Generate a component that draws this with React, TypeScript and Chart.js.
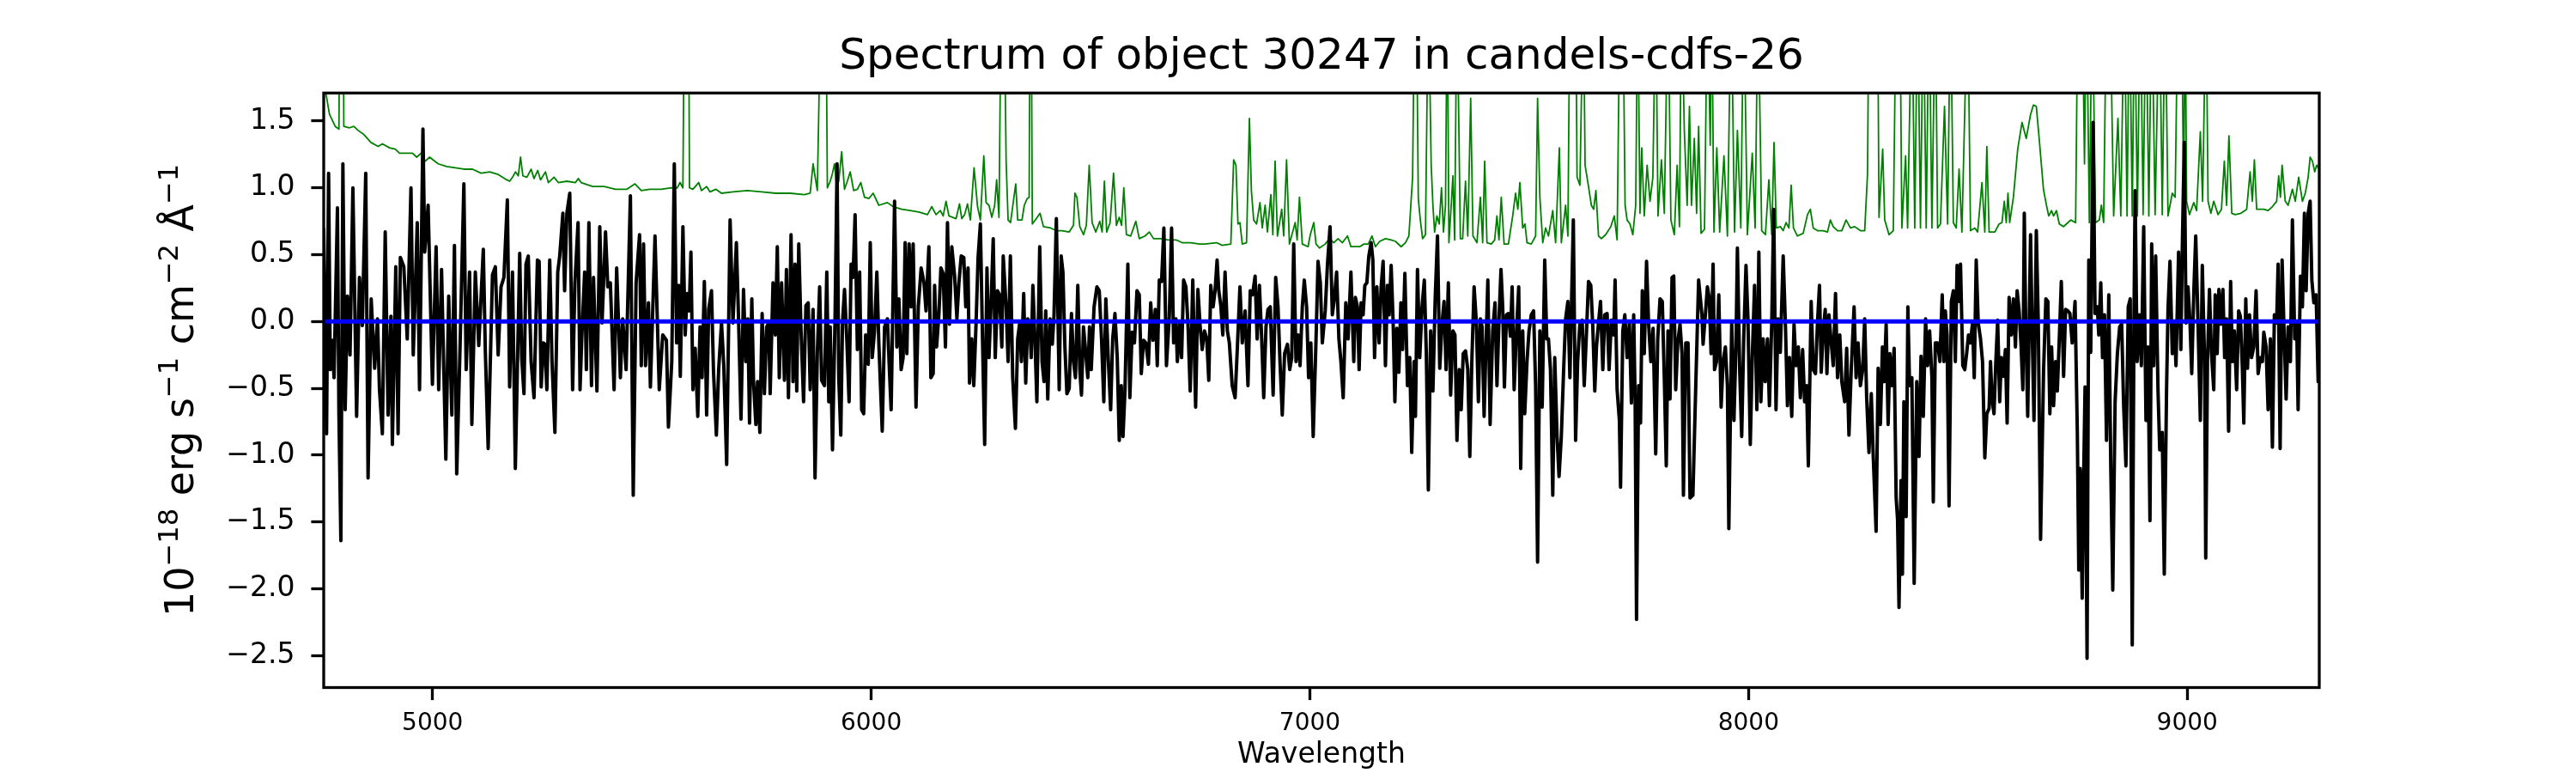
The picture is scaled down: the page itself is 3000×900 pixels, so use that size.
import React, { useEffect, useRef } from 'react';
import { Chart, registerables } from 'chart.js';

Chart.register(...registerables);

// ---------- texts ----------
const TITLE = 'Spectrum of object 30247 in candels-cdfs-26';
const X_LABEL = 'Wavelength';
const Y_LABEL_PARTS: [string, boolean][] = [
  ['10', false], ['\u221218', true], [' erg s', false], ['\u22121', true],
  [' cm', false], ['\u22122', true], [' \u00C5', false], ['\u22121', true],
];

// ---------- axes ----------
const X_MIN = 4752;
const X_MAX = 9301;
const Y_MIN = -2.739;
const Y_MAX = 1.71;
const X_TICKS = [5000, 6000, 7000, 8000, 9000];
const Y_TICKS = [-2.5, -2.0, -1.5, -1.0, -0.5, 0.0, 0.5, 1.0, 1.5];

// ---------- model (blue) ----------
const modelWave = [4752, 9301];
const modelFlux = [0, 0];

// ---------- observed flux (black) ----------
const fluxWave = [
  4752.0,4758.5,4763.1,4767.0,4771.6,4775.5,4783.3,4786.6,4791.1,4795.7,
  4800.9,4806.1,4812.0,4818.5,4827.0,4833.5,4840.0,4847.8,4853.1,4860.2,
  4868.1,4874.6,4879.1,4885.7,4892.2,4898.7,4905.2,4908.5,4916.3,4921.5,
  4926.7,4934.6,4942.4,4950.9,4956.1,4960.6,4965.2,4970.4,4978.2,4982.2,
  4990.0,4999.8,5008.2,5014.1,5020.6,5030.4,5036.9,5044.1,5050.0,5055.2,
  5063.0,5071.5,5076.7,5084.5,5089.7,5097.6,5105.4,5115.8,5120.4,5126.9,
  5136.7,5143.2,5149.7,5156.2,5162.8,5170.6,5175.8,5182.3,5188.8,
  5198.8,5203.3,5208.5,5213.1,5218.3,5224.8,5231.4,5239.2,5243.1,5247.7,
  5252.9,5256.1,5260.7,5267.2,5272.4,5279.0,5285.5,5290.0,5297.2,5301.1,
  5306.3,5312.9,5319.4,5324.6,5331.8,5336.3,5340.2,5346.8,5350.7,5356.5,
  5362.4,5367.0,5374.8,5381.3,5386.5,5394.4,5399.6,5405.4,5413.9,5419.8,
  5428.3,5433.5,5441.3,5451.1,5457.6,5464.1,5472.0,5475.9,5481.1,5485.6,
  5492.2,5496.7,5507.2,5516.9,5524.8,5533.2,5537.8,
  5545.4,5551.2,5556.5,5561.0,5564.9,5570.8,5576.0,5580.6,5585.1,5589.1,
  5593.6,5598.8,5604.7,5609.9,5614.5,5619.7,5624.9,5629.5,5636.0,5640.6,
  5647.1,5652.3,5658.8,5664.0,5670.6,5678.4,5684.9,5692.7,5697.9,5703.2,
  5709.0,5714.2,5718.8,5722.7,5727.9,5731.8,5737.1,5741.0,5746.2,5751.4,
  5756.6,5761.8,5766.4,5769.7,5776.2,5781.4,5786.0,5790.5,5795.7,5802.3,
  5806.8,5811.4,5817.3,5821.8,5826.4,5830.3,5834.9,5840.1,5845.9,5851.2,
  5856.4,5861.0,5867.5,5872.0,5877.2,5882.5,5887.0,5893.5,5898.8,5903.3,
  5906.6,5911.8,5917.7,5922.2,5926.1,5930.7,5934.6,5939.2,5944.4,5949.6,
  5954.2,5958.7,5963.3,5968.5,5973.7,5978.3,5982.9,5987.4,5993.3,5997.9,
  6002.4,6007.6,6012.9,6017.4,6025.2,6030.5,6037.0,6041.5,6045.5,6053.3,
  6058.5,6063.1,6068.3,6072.8,6077.4,6081.3,6086.5,6091.1,6095.7,6102.2,
  6107.4,6113.9,6120.4,6125.0,6131.5,6136.1,6141.3,6144.6,6149.1,6154.3,
  6158.9,6164.1,6169.3,6173.9,6178.5,6183.7,6190.2,6195.4,6200.0,6205.2,
  6211.1,6215.6,6220.8,6224.1,6229.3,6233.9,6239.1,6243.7,6248.9,6253.4,
  6258.7,6263.9,6268.5,6273.0,6278.2,6282.8,6288.0,6292.6,6297.8,6301.0,
  6307.6,6312.1,6317.3,6322.6,
  6328.8,6334.0,6338.6,6342.5,6347.7,6352.3,6356.9,6361.4,6364.7,6368.6,
  6373.2,6377.7,6384.2,6389.5,6394.0,6397.9,6402.5,6407.7,6412.9,6416.8,
  6422.1,6428.6,6433.1,6437.1,6441.6,6446.2,6451.4,6456.6,6461.2,6465.7,
  6471.0,6475.5,6479.4,6484.0,6489.2,6493.8,6497.7,6501.6,6508.1,6514.6,
  6519.9,6525.1,6530.3,6534.9,6540.7,6545.9,6550.5,6555.7,6560.9,6565.5,
  6570.1,6574.0,6578.5,6585.1,6589.6,6594.8,6600.1,6605.9,6611.1,6615.7,
  6620.9,6626.1,6632.0,6637.2,6642.4,6647.7,6652.2,6656.8,6662.0,6667.2,
  6673.1,6679.6,6684.8,6689.4,6694.7,6697.9,6703.7,6707.6,6712.2,6717.4,
  6722.0,6727.2,6733.1,6739.6,6744.8,6750.0,6754.6,6759.8,6765.0,6769.6,
  6774.1,6779.4,6783.9,6788.5,6792.4,6797.0,6801.5,6806.7,6812.0,6816.5,
  6823.0,6829.6,6834.8,6840.6,6845.9,6852.4,6858.9,6864.1,6869.3,6875.2,
  6879.8,6885.0,6890.2,6894.8,6900.0,6904.5,6909.8,6916.3,6922.1,6927.4,
  6931.9,6937.1,6942.4,6948.9,6954.1,6958.7,6963.2,6968.4,6973.0,6977.6,
  6982.8,6987.3,6992.6,6997.1,7002.3,7007.6,7014.1,7018.6,7023.9,7028.4,
  7035.0,7040.2,7046.0,7051.2,7055.8,7061.0,7066.2,7070.8,7076.0,7081.9,
  7087.1,7093.6,7100.1,
  7103.8,7108.4,7112.3,7116.8,7121.4,7125.3,7129.9,7134.4,7139.7,7143.6,
  7147.5,7152.7,7157.9,7162.5,7167.0,7172.3,7176.8,7180.7,7185.3,7189.9,
  7193.8,7198.3,7202.9,7207.5,7211.4,7216.6,7222.5,7227.7,7232.2,7237.5,
  7240.7,7245.3,7250.5,7255.7,7260.9,7265.5,7270.1,7275.3,7280.5,7285.7,
  7290.9,7296.1,7301.4,7305.9,7310.5,7315.7,7320.9,7326.1,7330.7,7335.3,
  7340.5,7345.0,7349.6,7354.8,7360.0,7364.6,7369.2,7374.4,7379.6,7384.2,
  7388.7,7392.6,7397.2,7400.5,7405.7,7410.9,7416.8,7422.0,7426.5,7431.1,
  7435.7,7439.6,7443.5,7448.1,7452.6,7457.2,7461.1,7465.7,7470.2,7476.1,
  7480.7,7485.2,7489.8,7495.0,7499.6,7504.8,7510.0,7514.6,7519.1,7524.3,
  7529.6,7535.4,7540.0,7543.9,7548.5,7553.7,7558.2,7563.5,7568.0,7573.2,
  7578.5,7583.0,7588.2,7592.8,7600.6,7605.8,7610.4,7615.6,7620.8,7625.4,
  7630.6,7635.2,7640.4,7645.0,7649.5,7653.4,7658.0,7662.6,7667.8,7672.3,
  7677.6,7682.1,7687.3,7692.6,7695.8,7700.4,7705.6,7708.2,7713.4,7718.0,
  7723.2,7728.4,7733.0,7738.2,7741.5,7744.7,7749.3,7753.8,7757.8,7762.3,
  7767.5,7772.1,7777.3,7782.5,7788.4,7793.0,7798.2,7803.4,7808.0,7812.5,
  7816.4,7821.0,7825.6,7829.5,7834.0,7838.6,7843.8,7848.4,7851.6,7856.9,
  7862.1,7866.6,7873.2,7879.7,7886.2,
  7893.8,7896.4,7901.6,7906.2,7910.7,7914.6,7919.2,7922.5,7927.0,7932.2,
  7937.5,7942.0,7947.2,7951.8,7955.1,7961.6,7966.8,7971.4,7974.6,7979.8,
  7984.4,7989.0,7994.2,7998.7,8004.0,8008.5,8013.7,8019.0,8023.5,8028.1,
  8033.3,8037.9,8043.1,8047.6,8052.9,8057.4,8062.6,8067.2,8072.4,8079.0,
  8084.2,8088.7,8093.3,8098.5,8103.7,8108.3,8113.5,8118.1,8123.3,8127.8,
  8132.4,8136.3,8142.8,8147.4,8152.6,8157.2,8161.7,8165.7,8170.2,8174.8,
  8178.7,8183.3,8187.8,8193.0,8198.3,8202.8,8208.0,8212.6,8219.1,8223.7,
  8228.9,8234.1,8240.6,8245.2,8249.8,8255.0,8260.2,8264.8,8269.3,8274.5,
  8279.8,8284.3,8290.8,8295.4,8300.6,8305.2,8309.1,8313.7,8318.2,8322.1,
  8326.7,8331.9,8336.5,8339.7,8343.0,8347.6,8350.8,8354.1,8359.3,8363.2,
  8367.1,8372.3,8377.6,8383.4,8388.6,8393.2,8398.4,8403.6,8408.2,8412.8,
  8418.0,8421.2,8425.8,8431.0,8436.2,8441.5,8445.4,8448.6,8452.5,8457.1,
  8462.3,8466.9,8471.4,8475.4,8479.9,8483.2,8488.4,8493.0,8497.5,8501.4,
  8506.0,8510.6,8514.5,8519.0,8523.6,8528.8,8533.4,8538.6,8543.2,8548.4,
  8551.6,8554.9,8559.5,8563.4,8567.9,8572.5,8576.4,8581.0,8585.5,8589.5,
  8594.0,8599.2,8603.8,8608.4,8612.3,8616.8,8621.4,8625.3,8628.6,8631.8,
  8636.4,8642.9,8646.2,8650.7,8656.0,8660.5,8665.7,
  8672.6,8677.8,8682.3,8686.9,8690.8,8695.4,8699.9,8703.9,8708.4,8713.0,
  8718.2,8722.8,8728.0,8732.5,8737.8,8744.3,8749.5,8752.8,8756.0,8760.6,
  8763.8,8767.1,8771.7,8775.6,8780.1,8785.4,8789.9,8795.1,8798.4,8803.0,
  8806.9,8811.4,8816.0,8821.2,8825.8,8830.3,8835.6,8840.8,8846.0,8850.6,
  8855.1,8860.3,8865.6,8870.1,8874.7,8878.6,8881.2,8885.8,8891.0,8895.5,
  8900.8,8906.0,8910.5,8915.1,8919.0,8923.6,8928.1,8933.4,8937.3,8943.1,
  8947.7,8952.9,8956.2,8960.7,8966.0,8970.5,8974.4,8980.3,8985.5,8988.8,
  8993.3,8997.3,9001.8,9006.4,9010.3,9014.9,9019.4,9024.6,9029.9,9034.4,
  9039.6,9042.2,9046.2,9050.7,9055.3,9060.5,9063.8,9068.3,9072.2,9076.8,
  9081.4,9085.3,9089.8,9094.4,9099.0,9102.9,9107.4,9112.7,9117.2,9121.1,
  9125.7,9129.0,9133.5,9137.4,9142.0,9146.6,9151.8,9157.0,9161.6,9166.8,
  9171.3,9174.6,9179.8,9184.4,9189.6,9194.2,9198.7,9203.9,9207.2,9211.8,
  9216.3,9220.2,9225.5,9230.0,9235.2,9239.8,9245.0,9249.6,9252.8,9258.1,
  9262.6,9267.2,9271.1,9275.7,9280.2,9284.1,9288.7,9293.9,9298.5,9302.0,
];
const fluxValue = [
  0.70,-0.84,1.11,-0.36,-0.14,-0.42,0.85,-0.68,-1.64,1.18,
  -0.66,0.19,-0.25,1.00,-0.71,0.33,-0.03,1.11,-1.17,0.17,
  -0.35,0.02,-0.51,-0.84,0.67,-0.70,0.04,-0.92,0.41,-0.84,
  0.48,0.41,-0.13,1.00,-0.25,0.22,0.74,-0.51,1.44,0.52,
  0.87,-0.47,0.56,-0.51,0.39,-1.03,0.19,-0.70,0.57,-1.14,
  -0.16,1.03,-0.36,0.37,-0.77,0.37,-0.18,0.54,-0.22,-0.95,
  0.35,0.41,-0.25,0.26,0.33,0.91,-0.49,0.37,-1.10,
  0.51,-0.27,-0.54,0.43,0.49,-0.30,-0.57,0.46,0.45,-0.49,
  -0.16,-0.17,-0.51,0.46,-0.30,-0.83,0.37,0.49,0.81,0.23,
  0.81,0.96,-0.51,0.29,0.74,-0.51,-0.13,0.37,-0.36,0.74,
  -0.48,0.33,-0.52,0.71,-0.01,0.67,0.26,0.29,-0.51,0.40,
  -0.42,0.02,-0.36,0.94,-1.30,0.29,0.65,-0.33,0.58,-0.33,
  0.14,-0.49,0.64,-0.51,-0.10,-0.14,-0.79,
  -0.30,1.18,-0.16,0.27,-0.41,0.71,-0.10,0.21,0.08,0.52,
  -0.51,-0.20,-0.71,-0.04,-0.42,0.30,-0.70,0.09,0.23,-0.38,
  -0.85,-0.36,-0.01,-0.33,-1.07,0.76,-0.01,0.59,-0.01,-0.73,
  0.24,-0.30,0.02,-0.76,0.17,-0.45,-0.77,-0.45,-0.83,0.06,
  -0.54,-0.04,-0.01,-0.54,0.29,-0.10,0.56,-0.42,0.29,-0.44,
  0.39,-0.57,0.65,-0.45,0.43,-0.52,0.58,-0.07,-0.60,0.12,
  0.14,-0.51,0.09,-1.17,-0.24,0.26,-0.44,-0.48,0.37,-0.60,
  -0.04,-0.96,0.04,1.18,-0.42,-0.85,-0.01,0.24,-0.13,-0.60,
  0.43,0.33,0.80,-0.21,0.37,-0.66,-0.69,-0.10,-0.32,0.59,
  -0.27,-0.07,0.37,-0.16,-0.82,-0.04,0.02,-0.36,-0.66,0.90,
  -0.19,0.17,-0.36,-0.27,0.59,-0.24,0.58,0.11,0.58,-0.64,
  0.11,0.40,0.29,0.08,0.56,-0.42,-0.39,0.27,-0.19,0.05,
  0.40,0.36,-0.19,0.74,-0.02,0.56,0.34,0.02,0.29,0.49,
  0.48,0.11,0.40,-0.46,-0.13,-0.48,-0.01,0.48,0.73,-0.07,
  -0.92,0.40,-0.27,0.11,0.62,-0.27,0.23,0.20,-0.19,0.49,
  0.11,-0.30,0.49,-0.42,
  -0.80,-0.13,-0.01,-0.30,0.21,-0.46,0.02,-0.01,-0.27,0.27,
  -0.13,-0.60,0.56,-0.30,-0.45,0.08,-0.58,0.02,-0.17,0.05,
  0.77,-0.51,0.49,0.37,-0.19,-0.54,-0.50,0.06,-0.30,-0.42,
  0.27,-0.36,-0.55,-0.04,-0.24,-0.42,-0.04,-0.36,0.11,0.26,
  0.23,-0.13,-0.60,0.17,-0.30,-0.66,-0.13,0.06,-0.27,-0.89,
  -0.48,-0.86,-0.52,0.43,-0.57,-0.08,-0.16,0.23,0.20,-0.39,
  -0.14,-0.16,-0.32,0.14,-0.14,0.09,-0.33,0.31,0.30,0.70,
  -0.33,0.04,0.70,-0.16,0.02,-0.30,-0.01,-0.27,0.31,0.26,
  -0.01,-0.52,0.31,-0.64,0.24,-0.04,-0.21,-0.07,-0.13,-0.44,
  0.27,0.11,0.23,0.46,0.23,0.12,-0.10,0.37,-0.07,-0.16,
  -0.48,-0.57,-0.19,0.26,-0.16,0.08,-0.48,0.23,0.20,0.34,
  -0.13,0.27,-0.13,-0.57,-0.04,0.09,0.11,-0.55,0.33,0.11,
  -0.30,-0.70,-0.24,-0.17,-0.36,-0.27,0.58,-0.30,-0.10,-0.33,
  0.11,0.31,0.11,-0.42,-0.16,-0.86,-0.13,0.45,0.29,-0.16,
  0.08,0.43,0.71,0.05,0.17,0.37,-0.13,-0.30,-0.57,0.14,
  -0.13,0.37,-0.30,
  0.18,0.11,-0.36,0.14,0.05,0.27,0.29,0.49,0.59,0.46,
  -0.27,0.26,-0.16,0.26,0.45,-0.33,0.27,0.05,0.42,-0.01,
  -0.60,-0.05,-0.38,0.14,-0.21,0.36,-0.48,-0.27,-0.98,-0.30,
  -0.71,0.39,-0.27,0.11,0.31,-0.24,-1.26,-0.07,-0.52,0.17,
  0.64,-0.35,-0.01,0.15,-0.36,0.29,-0.55,-0.07,-0.10,-0.89,
  -0.36,-0.66,-0.24,-0.22,-0.36,-1.01,-0.30,0.26,-0.01,-0.60,
  0.02,-0.04,-0.71,-0.30,0.31,-0.77,-0.07,0.14,-0.48,0.01,
  0.39,0.11,-0.49,0.05,0.06,-0.11,0.26,-0.51,-0.13,0.26,
  -1.10,-0.07,-0.69,-0.30,-0.07,0.05,0.08,-0.48,-1.80,-0.07,
  -0.64,0.46,-0.13,-0.13,-0.36,-1.30,-0.27,-0.86,-1.16,-0.86,
  -0.36,0.02,0.15,-0.42,0.76,-0.89,-0.30,-0.01,0.01,-0.48,
  -0.08,0.30,0.27,-0.04,-0.52,-0.19,-0.01,0.15,-0.36,0.05,
  0.06,-0.36,0.01,-0.10,0.31,-0.51,-0.74,-1.24,-0.07,0.05,
  -0.27,-0.01,-0.61,0.05,-0.60,-2.23,-0.48,-0.76,0.23,-0.24,
  0.45,-0.01,-0.30,-0.05,-0.99,-0.13,0.17,0.15,-0.42,-1.08,
  -0.07,-0.58,0.33,0.34,-0.51,-0.16,-0.02,-0.24,-1.30,-0.16,
  -0.16,-1.32,-1.30,-0.48,0.31,
  0.05,-0.17,0.05,0.26,0.17,-0.24,0.43,-0.36,-0.30,0.20,
  -0.64,-0.30,-0.19,-0.48,-1.55,-0.01,-0.74,-0.17,0.55,-0.36,
  -0.86,-0.13,0.42,0.02,-0.92,-0.27,0.27,-0.66,0.52,-0.60,
  -0.13,-0.45,-0.13,-0.63,-0.01,0.84,-0.66,0.02,-0.23,0.49,
  -0.04,-0.63,-0.27,-0.71,-0.02,-0.33,-0.19,-0.57,-0.21,-0.60,
  -0.48,-1.08,0.15,-0.36,-0.39,-0.01,0.27,-0.38,-0.07,0.09,
  -0.39,0.05,-0.13,-0.33,0.21,-0.42,-0.10,-0.45,-0.60,-0.20,
  -0.85,-0.36,0.11,-0.42,-0.16,-0.48,-0.36,0.02,-0.57,-0.98,
  -0.54,-1.01,-1.57,-0.35,-0.77,-0.19,-0.45,-0.02,-0.77,-0.24,
  -0.48,-0.20,-1.32,-1.48,-2.14,-1.19,-1.89,-0.60,-1.46,0.11,
  -0.48,-0.42,-1.96,-0.45,-1.01,-0.26,-0.71,0.02,-0.33,-0.07,
  -0.42,-1.35,-0.16,-0.16,-0.30,0.20,-0.30,0.08,-0.10,-1.38,
  0.15,0.23,-0.30,0.42,0.15,0.43,-0.33,-0.36,-0.23,-0.10,
  -0.16,-0.01,-0.42,0.46,-0.01,-0.13,-0.30,-1.02,-0.69,-0.65,
  -0.30,-0.57,-0.69,-0.33,0.01,-0.60,-0.27,-0.41,-0.21,-0.76,
  0.18,-0.10,0.17,-0.19,0.23,0.08,-0.19,-0.51,0.81,-0.01,
  -0.71,0.65,-0.01,-0.74,0.68,-0.01,-1.63,
  -0.36,0.17,0.15,-0.69,-0.19,-0.63,-0.30,-0.52,-0.13,0.30,
  -0.41,0.09,0.08,0.06,-0.16,0.15,-0.83,-1.86,-1.10,-2.07,
  -1.19,-0.49,-2.52,0.46,-0.23,1.49,0.06,0.11,-0.10,0.29,
  -0.27,0.05,-0.89,0.20,-1.10,-2.01,-0.60,-0.24,-0.04,-0.02,
  -0.63,-1.08,0.11,0.17,-2.42,-0.01,0.98,-0.30,0.05,-0.33,
  0.71,-0.74,-0.19,-1.49,0.58,-0.33,0.49,-0.51,-0.96,-0.83,
  -1.89,-0.51,0.09,0.45,-0.24,-0.01,-0.33,0.52,-0.21,0.55,
  1.34,-0.01,0.26,-0.01,-0.39,0.21,0.64,-0.01,-0.74,0.42,
  -0.30,-1.77,-0.30,0.24,-0.24,-0.51,0.20,-0.24,0.24,-0.02,
  0.24,-0.27,0.02,-0.82,0.30,-0.30,-0.07,-0.51,0.08,0.04,
  -0.35,-0.76,0.17,-0.35,0.05,-0.27,-0.19,0.23,-0.39,-0.27,
  -0.30,-0.08,-0.19,-0.66,-0.13,-0.94,0.05,-0.01,0.43,-0.95,
  0.46,-0.01,-0.58,-0.04,-0.30,0.76,-0.13,-0.01,-0.66,0.34,
  0.11,0.81,0.23,0.81,0.90,0.31,0.14,0.20,-0.45,-0.45,
];

// ---------- noise / sky (green) ----------
const noiseWave = [
  4752.1,4765.2,4778.2,4786.7,4788.7,4796.5,4797.8,4810.8,4820.6,4830.4,
  4843.4,4859.7,4876.0,4885.8,4902.1,4915.1,4924.9,4941.2,4954.3,4964.0,
  4973.8,4983.6,4993.4,5012.9,5032.5,5052.1,5071.6,5091.2,5110.7,5130.3,
  5149.9,5169.4,5175.9,5182.5,5189.0,5195.5,5200.7,5206.0,5215.1,5224.8,
  5231.4,5239.8,5246.4,5257.4,5264.0,5277.0,5286.8,5306.3,5325.9,5332.4,
  5338.9,5365.0,5391.1,5417.2,5443.3,5461.5,5475.9,5495.4,5521.5,
  5541.5,5557.8,5564.3,5570.8,5574.1,5583.8,5585.8,5593.6,5606.7,5613.2,
  5624.9,5632.7,5645.8,5658.8,5684.9,5717.5,5750.1,5782.7,5815.3,5847.9,
  5860.9,5867.5,5877.2,5885.7,5896.8,5900.1,5906.6,5911.8,5916.4,5921.0,
  5926.1,5932.7,5939.2,5945.7,5952.2,5960.0,5968.5,5976.3,5984.8,5994.6,
  6004.4,6017.4,6037.0,6050.0,6069.6,6089.1,6108.7,6128.3,6138.0,6147.8,
  6157.6,6164.1,6170.6,6177.2,6193.5,6201.3,6206.5,6213.0,6219.5,6226.1,
  6234.5,6242.4,6248.9,6256.7,6261.9,6268.5,6275.0,6281.5,6286.0,6291.3,
  6296.5,6303.0,6307.6,6312.1,
  6317.7,6323.0,6329.5,6334.0,6343.8,6349.0,6355.6,6360.1,6362.1,6364.7,
  6367.3,6376.4,6384.9,6392.7,6409.0,6422.1,6435.1,6451.4,6461.2,6464.4,
  6469.0,6475.5,6484.0,6490.5,6497.0,6503.6,6512.0,6521.2,6526.4,6531.6,
  6536.8,6544.6,6552.5,6559.0,6565.5,6570.7,6575.9,6581.8,6591.6,6603.3,
  6611.1,6624.2,6634.0,6643.7,6660.0,6676.3,6695.9,6708.9,6728.5,6748.1,
  6761.1,6787.2,6800.2,6819.8,6826.3,6831.5,6836.1,6840.6,6845.9,6855.6,
  6862.2,6866.7,6871.9,6878.5,6886.3,6891.5,6898.0,6903.2,6911.1,6915.6,
  6920.8,6926.1,6935.8,6940.4,6946.9,6953.4,6966.5,6971.0,6976.3,6982.8,
  6995.8,7001.0,7008.9,7014.1,7021.9,7034.9,7044.7,7054.5,7064.3,7074.1,
  7085.8,7093.6,
  7100.5,7113.6,7123.4,7133.1,7141.6,7149.4,7159.2,7172.3,7185.3,7195.1,
  7208.1,7217.9,7225.7,7234.2,7238.8,7242.7,7247.2,7251.8,7257.0,7263.5,
  7270.1,7276.6,7280.5,7284.4,7289.6,7294.8,7300.1,7304.6,7309.2,7313.1,
  7317.0,7322.2,7326.1,7330.0,7335.3,7343.1,7348.3,7354.8,7360.0,7366.6,
  7371.8,7380.9,7388.7,7393.9,7398.5,7403.7,7413.5,7421.3,7426.5,7431.1,
  7436.3,7442.8,7452.6,7462.4,7468.9,7474.1,7478.7,7485.2,7490.4,7495.0,
  7504.8,7514.6,7519.1,7524.3,7530.9,7537.4,7543.9,7553.7,7560.2,7568.7,
  7573.2,7583.0,7588.2,7592.8,7605.8,7609.1,7615.6,7623.4,7627.4,7635.2,
  7641.7,7646.9,7652.1,7658.0,7664.5,7674.3,7686.0,7693.9,7700.4,7706.9,
  7713.4,7718.6,7723.2,7729.7,7736.2,7742.8,7747.3,7752.5,7756.5,7762.3,
  7768.8,7775.4,7781.9,7788.4,7793.6,7801.4,7808.0,7816.4,7823.0,7830.8,
  7837.3,7842.5,7847.1,7853.6,7860.1,7865.3,7869.9,7876.4,7881.6,7886.2,
  7891.8,7899.6,7906.2,7912.7,7915.9,7921.2,7927.7,7934.2,7944.0,7951.8,
  7960.3,7968.1,7974.6,7982.4,7989.0,7997.4,8008.5,8015.0,8021.6,8030.0,
  8038.5,8046.3,8052.9,8058.1,8063.3,8072.4,8079.0,8085.5,8092.0,8097.2,
  8102.4,8111.5,8124.6,8134.4,8140.9,8147.4,8157.2,8170.2,8180.0,8186.5,
  8193.0,8202.8,8212.6,8222.4,8232.2,8241.9,8255.0,8264.8,8271.3,8274.5,
  8294.1,8297.4,8305.8,8310.4,8320.2,8330.0,8336.5,8345.0,8349.5,8358.0,
  8362.6,8372.3,8378.9,8385.4,8391.9,8398.4,8405.0,8411.5,8418.0,8425.8,
  8431.0,8437.5,8446.7,8453.8,8460.4,8466.9,8473.4,8479.9,8486.4,8499.5,
  8506.0,8515.8,8522.3,8532.1,8538.6,8543.2,8548.4,8561.4,8571.2,8577.7,
  8583.0,8587.5,8591.4,8595.3,8603.8,8613.6,8623.4,8633.1,8642.9,8649.4,
  8656.0,8662.5,8672.3,
  8679.1,8684.3,8690.8,8695.4,8701.9,8708.4,8718.2,8724.7,8734.5,8745.6,
  8750.8,8760.6,8765.8,8770.4,8776.9,8783.4,8791.2,8799.7,8804.3,8809.5,
  8816.0,8823.8,8832.3,8842.1,8848.6,8856.4,8862.9,8868.2,8874.7,8879.9,
  8886.4,8892.9,8899.5,8906.0,8912.5,8919.0,8926.8,8936.6,8943.1,8949.7,
  8956.2,8966.0,8972.5,8979.0,8986.8,8992.0,8995.3,8998.6,9005.1,9014.9,
  9021.4,9029.9,9035.1,9042.9,9047.5,9054.0,9060.5,9070.3,9078.1,9084.6,
  9089.8,9095.1,9101.6,9109.4,9122.4,9135.5,9143.3,9148.5,9153.1,9158.3,
  9174.6,9184.4,9194.2,9203.9,9208.5,9212.4,9216.3,9223.5,9230.0,9239.8,
  9246.3,9254.1,9262.6,9269.1,9275.7,9280.2,9285.4,9290.7,9295.2,9301.0,
];
const noiseValue = [
  1.80,1.55,1.46,1.44,2.5,2.5,1.46,1.45,1.46,1.43,
  1.40,1.34,1.31,1.33,1.30,1.29,1.26,1.26,1.26,1.23,
  1.26,1.20,1.23,1.18,1.16,1.15,1.14,1.14,1.11,1.12,
  1.10,1.06,1.05,1.08,1.12,1.09,1.23,1.09,1.08,1.14,
  1.07,1.13,1.06,1.12,1.04,1.08,1.04,1.05,1.04,1.07,
  1.04,1.01,1.01,0.99,0.99,1.03,0.98,0.99,0.99,
  1.00,1.00,1.04,1.00,2.5,2.5,1.00,0.99,1.04,0.98,
  1.01,0.97,0.99,0.96,0.97,0.98,0.97,0.96,0.96,0.95,
  0.96,1.18,0.98,2.5,2.5,1.00,1.05,1.11,1.18,1.02,
  1.05,1.27,0.99,1.05,1.12,0.98,0.99,1.04,0.93,0.92,
  0.96,0.87,0.89,0.86,0.84,0.83,0.82,0.80,0.86,0.80,
  0.83,0.79,0.90,0.79,0.77,0.88,0.77,0.80,0.88,0.76,
  1.15,0.86,0.76,1.24,0.89,0.87,0.78,0.87,1.06,0.78,
  2.5,2.5,1.20,0.76,
  0.74,0.87,1.03,0.76,0.76,0.87,0.92,0.93,2.5,2.5,
  0.73,0.77,0.81,0.71,0.70,0.68,0.68,0.67,0.72,0.96,
  0.93,0.71,0.65,0.72,1.17,0.74,0.67,0.75,0.67,1.05,
  0.67,0.74,1.11,0.72,0.78,0.72,1.00,0.65,0.64,0.75,
  0.62,0.64,0.67,0.62,0.62,0.61,0.61,0.59,0.59,0.58,
  0.58,0.59,0.57,0.58,1.21,1.17,0.73,0.74,0.58,0.59,
  1.52,0.98,0.76,0.73,0.89,0.70,0.87,0.67,0.95,0.65,
  1.20,0.64,0.84,0.64,1.21,0.58,0.74,0.61,0.93,0.58,
  0.56,0.65,0.74,0.58,0.55,0.58,0.62,0.59,0.62,0.59,
  0.64,0.56,
  0.56,0.56,0.58,0.58,0.64,0.56,0.60,0.62,0.61,0.60,
  0.56,0.59,0.64,1.08,2.5,2.5,0.92,0.76,0.62,0.65,
  2.5,1.17,0.87,0.67,0.79,0.73,1.00,0.67,0.87,2.5,
  0.59,0.87,1.09,0.61,2.5,0.62,0.62,1.05,0.64,1.67,
  0.64,0.59,0.93,0.59,1.20,0.59,0.58,0.61,0.79,0.61,
  0.93,0.58,0.58,0.79,0.96,0.84,1.04,0.70,0.73,0.59,
  0.58,0.64,1.67,0.93,0.59,0.70,0.64,0.83,0.59,1.30,
  0.59,0.87,0.64,2.5,2.5,1.08,1.02,2.5,1.17,1.01,
  0.87,0.84,0.98,0.64,0.62,0.65,0.71,0.79,0.61,2.5,
  2.5,0.87,0.76,0.73,0.65,0.87,2.5,0.81,1.30,0.79,
  1.17,0.90,1.08,2.5,0.79,1.21,0.81,2.5,0.76,0.65,
  1.17,0.71,2.5,1.43,0.87,1.61,0.87,1.37,0.81,1.46,
  0.66,0.69,2.5,1.32,2.5,0.67,1.30,0.67,1.24,0.64,
  2.5,0.67,1.43,0.70,2.5,0.65,1.26,0.70,2.5,0.68,
  0.65,1.06,0.65,1.34,0.70,0.71,0.68,0.74,0.70,1.02,
  0.70,0.64,0.66,0.80,0.84,0.70,0.68,0.68,0.67,0.76,
  0.71,0.68,0.68,0.76,0.70,0.71,0.68,0.68,1.11,2.5,
  2.5,0.78,1.29,0.76,0.65,0.68,2.5,2.5,0.70,1.24,
  0.70,2.5,0.70,2.5,0.70,2.5,0.70,2.5,0.70,2.5,
  0.70,0.73,1.61,0.73,2.5,0.74,0.70,1.14,0.67,2.5,
  0.68,0.70,0.67,1.04,0.67,1.31,0.67,0.67,0.73,0.74,
  0.90,0.74,0.96,0.74,0.93,1.29,1.49,1.37,1.55,1.62,
  1.61,1.37,0.99,
  0.87,0.79,0.83,0.79,0.83,0.73,0.71,0.73,0.76,0.74,
  2.5,2.5,1.18,2.5,0.74,2.5,0.74,0.76,0.87,0.74,
  2.5,2.5,0.79,1.52,0.79,2.5,0.79,2.5,0.79,2.5,
  0.79,2.5,0.80,2.5,0.79,2.5,0.80,2.5,0.80,2.5,
  0.79,0.96,0.93,2.5,2.5,0.90,2.5,0.90,0.80,0.89,
  0.83,1.42,0.90,2.5,0.90,0.81,0.90,0.80,0.84,1.20,
  0.87,1.39,0.81,0.80,0.81,0.84,1.12,0.90,1.21,0.84,
  0.84,0.83,0.86,0.90,1.09,0.93,1.17,0.90,0.87,0.99,
  0.90,1.08,0.90,0.96,1.08,1.23,1.20,1.12,1.17,1.14,
];

function toPoints(xs: number[], ys: number[]) {
  const n = Math.min(xs.length, ys.length);
  const out: { x: number; y: number }[] = [];
  for (let i = 0; i < n; i++) out.push({ x: xs[i], y: ys[i] });
  return out;
}

const FONT = '"DejaVu Sans", "Liberation Sans", sans-serif';

const framePlugin = {
  id: 'mplFrame',
  afterDatasetsDraw(chart: any) {
    const { ctx, chartArea: a } = chart;
    ctx.save();
    ctx.strokeStyle = '#000';
    ctx.lineWidth = 3.3;
    ctx.strokeRect(a.left, a.top, a.right - a.left, a.bottom - a.top);
    ctx.restore();
  },
  afterDraw(chart: any) {
    const { ctx, chartArea: a } = chart;
    const main = 46;
    const sup = 32;
    ctx.save();
    ctx.fillStyle = '#000';
    ctx.textAlign = 'left';
    ctx.textBaseline = 'alphabetic';
    const widths = Y_LABEL_PARTS.map(([t, s]) => {
      ctx.font = `${s ? sup : main}px ${FONT}`;
      return ctx.measureText(t).width;
    });
    const total = widths.reduce((p, c) => p + c, 0);
    ctx.translate(225, (a.top + a.bottom) / 2);
    ctx.rotate(-Math.PI / 2);
    let x = -total / 2;
    Y_LABEL_PARTS.forEach(([t, s], i) => {
      ctx.font = `${s ? sup : main}px ${FONT}`;
      ctx.fillText(t, x, s ? -18 : 0);
      x += widths[i];
    });
    ctx.restore();
  },
};

export default function App() {
  const canvasRef = useRef<HTMLCanvasElement | null>(null);

  useEffect(() => {
    const canvas = canvasRef.current;
    if (!canvas) return;
    Chart.defaults.font.family = FONT;
    Chart.defaults.color = '#000';

    const chart = new Chart(canvas, {
      type: 'line',
      data: {
        datasets: [
          {
            label: 'model',
            data: toPoints(modelWave, modelFlux),
            borderColor: '#0000ff',
            borderWidth: 5,
            pointRadius: 0,
            tension: 0,
            clip: 0,
          },
          {
            label: 'flux',
            data: toPoints(fluxWave, fluxValue),
            borderColor: '#000000',
            borderWidth: 4,
            borderJoinStyle: 'round',
            pointRadius: 0,
            tension: 0,
            clip: 0,
          },
          {
            label: 'noise',
            data: toPoints(noiseWave, noiseValue),
            borderColor: '#008000',
            borderWidth: 1.8,
            borderJoinStyle: 'round',
            pointRadius: 0,
            tension: 0,
            clip: 0,
          },
        ],
      } as any,
      options: {
        responsive: false,
        animation: false,
        events: [],
        layout: { padding: { left: 0, right: 299, top: 0, bottom: 0 } },
        plugins: {
          legend: { display: false },
          tooltip: { enabled: false },
          title: {
            display: true,
            text: TITLE,
            fullSize: false,
            color: '#000',
            font: { family: FONT, size: 50, weight: 'normal', lineHeight: 1.2 },
            padding: { top: 37, bottom: 11.3 },
          },
        },
        scales: {
          x: {
            type: 'linear',
            min: X_MIN,
            max: X_MAX,
            afterBuildTicks: (scale: any) => {
              scale.ticks = X_TICKS.map((v) => ({ value: v }));
            },
            afterFit: (scale: any) => {
              scale.height = 99.5;
            },
            ticks: {
              autoSkip: false,
              maxRotation: 0,
              padding: 11,
              color: '#000',
              font: { family: FONT, size: 28 },
              callback: (v: any) => String(v),
            },
            grid: {
              display: true,
              drawOnChartArea: false,
              drawTicks: true,
              tickLength: 14.6,
              tickWidth: 3.3,
              tickColor: '#000',
            },
            border: { display: false },
            title: {
              display: true,
              text: X_LABEL,
              color: '#000',
              font: { family: FONT, size: 33, lineHeight: 1 },
              padding: { top: 0, bottom: 4 },
            },
          },
          y: {
            type: 'linear',
            min: Y_MIN,
            max: Y_MAX,
            afterBuildTicks: (scale: any) => {
              scale.ticks = Y_TICKS.map((v) => ({ value: v }));
            },
            afterFit: (scale: any) => {
              scale.width = 377;
            },
            ticks: {
              autoSkip: false,
              padding: 19,
              color: '#000',
              font: { family: FONT, size: 33 },
              callback: (v: any) => Number(v).toFixed(1).replace('-', '\u2212'),
            },
            grid: {
              display: true,
              drawOnChartArea: false,
              drawTicks: true,
              tickLength: 14.6,
              tickWidth: 3.3,
              tickColor: '#000',
            },
            border: { display: false },
          },
        },
      } as any,
      plugins: [framePlugin],
    });

    return () => {
      chart.destroy();
    };
  }, []);

  return (
    <div
      style={{
        position: 'fixed',
        left: 0,
        top: 0,
        width: 3000,
        height: 900,
        background: '#ffffff',
      }}
    >
      <canvas ref={canvasRef} width={3000} height={900} style={{ width: 3000, height: 900, display: 'block' }} />
    </div>
  );
}
